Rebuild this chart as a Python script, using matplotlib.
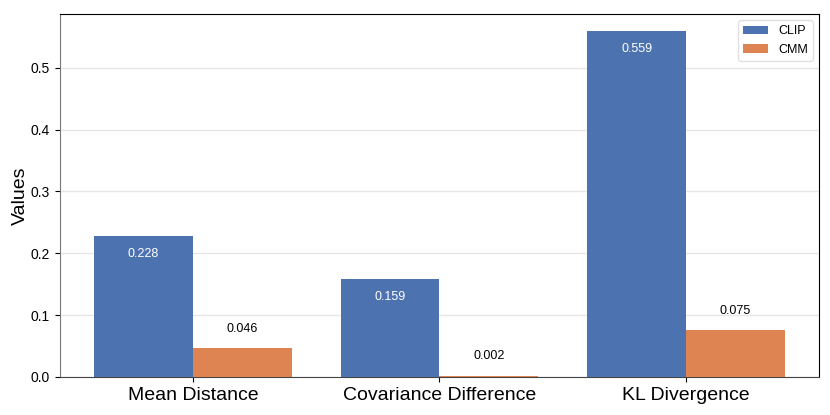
import numpy as np
import matplotlib.pyplot as plt

plt.rcParams['font.family'] = ['Liberation Sans', 'DejaVu Sans']

metrics = ['Mean Distance', 'Covariance Difference', 'KL Divergence']
clip_vals = [0.228, 0.159, 0.559]
cmm_vals = [0.046, 0.002, 0.075]

x = np.arange(len(metrics))
w = 0.4

fig, ax = plt.subplots(figsize=(8.3, 4.15), dpi=100)
b1 = ax.bar(x - w / 2, clip_vals, w, color='#4C72B0', label='CLIP', zorder=3)
b2 = ax.bar(x + w / 2, cmm_vals, w, color='#DD8452', label='CMM', zorder=3)

for rect, v in zip(b1, clip_vals):
    ax.annotate(f'{v:.3f}', (rect.get_x() + rect.get_width() / 2, v),
                xytext=(0, -13), textcoords='offset points', ha='center', va='center',
                color='white', fontsize=9)
for rect, v in zip(b2, cmm_vals):
    ax.annotate(f'{v:.3f}', (rect.get_x() + rect.get_width() / 2, v),
                xytext=(0, 14), textcoords='offset points', ha='center', va='center',
                color='black', fontsize=9)

ax.set_xticks(x)
ax.set_xticklabels(metrics, fontsize=14)
ax.tick_params(axis='y', labelsize=10)
ax.set_ylabel('Values', fontsize=14)
ax.yaxis.set_label_coords(-0.04, 0.5)
ax.grid(axis='y', color='#e6e6e6', linewidth=1, zorder=0)
ax.spines['left'].set_color('#777777')
ax.spines['bottom'].set_color('#444444')
ax.legend(loc='upper right', fontsize=9, framealpha=0.9, edgecolor='#dddddd')

fig.subplots_adjust(left=0.072, right=0.987, top=0.966, bottom=0.092)
fig.savefig('out.png', dpi=100)
